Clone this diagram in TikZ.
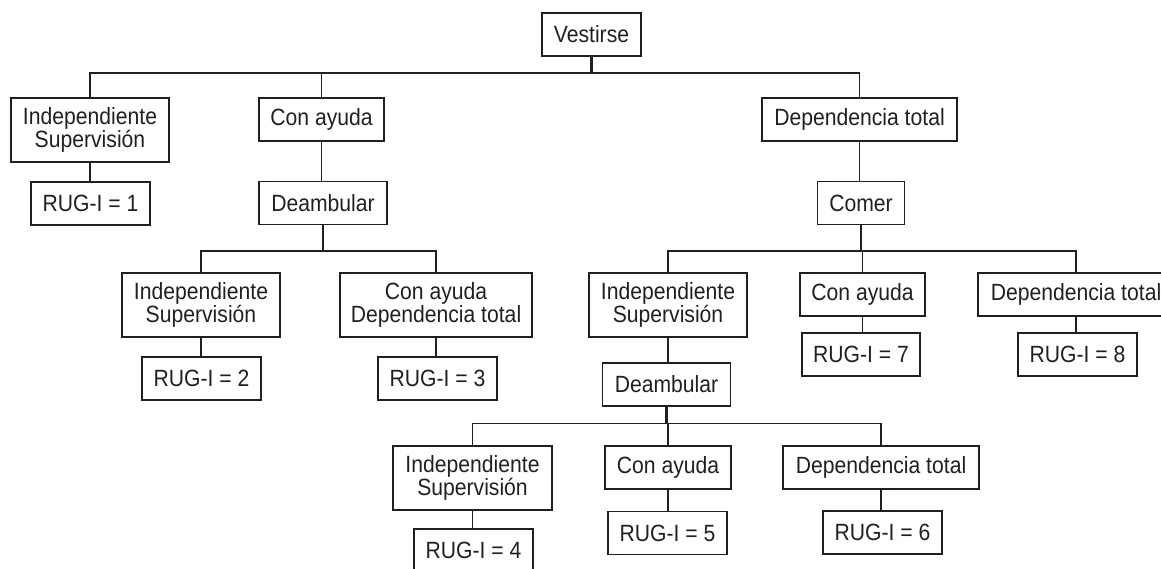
\documentclass[tikz,border=0pt]{standalone}
\usepackage{fontspec}
\setmainfont{Liberation Sans}[FakeStretch=0.9]
\definecolor{ink}{RGB}{35,31,32}
\begin{document}
\begin{tikzpicture}[x=1pt,y=-1pt,
  box/.style={draw=ink, line width=1.8pt, inner sep=0pt, minimum height=43pt, align=center, text=ink, font=\fontsize{23.5}{21}\selectfont},
  tall/.style={minimum height=64pt},
  link/.style={draw=ink, line width=1.7pt},
  stem/.style={draw=ink, line width=2.7pt}]
\useasboundingbox (0,0) rectangle (1161,569);
\clip (0,0) rectangle (1161,569);
% nodes
\node[box, minimum width=99pt] (vest) at (591.5,34.5) {Vestirse};
\node[box, tall, minimum width=158pt] (ind1) at (90,130) {Independiente\\Supervisión};
\node[box, minimum width=119pt] (rug1) at (90.5,203.5) {RUG-I = 1};
\node[box, minimum width=125pt] (con1) at (321.5,119.5) {Con ayuda};
\node[box, minimum width=128pt] (deam1) at (323,203) {Deambular};
\node[box, minimum width=195pt] (dep1) at (859.5,119.5) {Dependencia total};
\node[box, minimum width=87pt] (comer) at (861,203) {Comer};
\node[box, tall, minimum width=158pt] (ind2) at (201,305) {Independiente\\Supervisión};
\node[box, tall, minimum width=192pt] (cadt) at (436,305) {Con ayuda\\Dependencia total};
\node[box, minimum width=119pt] (rug2) at (201.5,378.5) {RUG-I = 2};
\node[box, minimum width=119pt] (rug3) at (437.5,378.5) {RUG-I = 3};
\node[box, tall, minimum width=158pt] (ind3) at (668,305) {Independiente\\Supervisión};
\node[box, minimum width=125pt] (con3) at (862.5,294.5) {Con ayuda};
\node[box, minimum width=196pt] (dep3) at (1076,294.5) {Dependencia total};
\node[box, minimum width=118pt] (rug7) at (861,354.5) {RUG-I = 7};
\node[box, minimum width=119pt] (rug8) at (1077.5,354.5) {RUG-I = 8};
\node[box, minimum width=128pt] (deam3) at (666.5,384.5) {Deambular};
\node[box, tall, minimum width=159pt] (ind4) at (472.5,478) {Independiente\\Supervisión};
\node[box, minimum width=126pt] (con4) at (668,467.5) {Con ayuda};
\node[box, minimum width=196pt] (dep4) at (881,467.5) {Dependencia total};
\node[box, minimum width=119pt] (rug4) at (473.5,550.5) {RUG-I = 4};
\node[box, minimum width=119pt] (rug5) at (667.5,533) {RUG-I = 5};
\node[box, minimum width=119pt] (rug6) at (882.5,532.5) {RUG-I = 6};
% connectors: Vestirse
\draw[stem] (vest.south) -- ++(0,16);
\draw[link] (vest.south) -- ++(0,16) -| (ind1.north);
\draw[link] (vest.south) -- ++(0,16) -| (con1.north);
\draw[link] (vest.south) -- ++(0,16) -| (dep1.north);
\draw[link] (ind1.south) -- (ind1.south |- rug1.north);
\draw[link] (con1.south) -- (con1.south |- deam1.north);
\draw[link] (dep1.south) -- (dep1.south |- comer.north);
% Deambular (left)
\draw[stem] (deam1.south) -- ++(0,25.5);
\draw[link] (deam1.south) -- ++(0,25.5) -| (ind2.north);
\draw[link] (deam1.south) -- ++(0,25.5) -| (cadt.north);
\draw[link] (ind2.south) -- (ind2.south |- rug2.north);
\draw[link] (cadt.south) -- (cadt.south |- rug3.north);
% Comer
\draw[stem] (comer.south) -- ++(0,25.5);
\draw[link] (comer.south) -- ++(0,25.5) -| (ind3.north);
\draw[link] (comer.south) -- ++(0,25.5) -| (con3.north);
\draw[link] (comer.south) -- ++(0,25.5) -| (dep3.north);
\draw[link] (ind3.south) -- (ind3.south |- deam3.north);
\draw[link] (con3.south) -- (con3.south |- rug7.north);
\draw[link] (dep3.south) -- (dep3.south |- rug8.north);
% Deambular (lower)
\draw[stem] (deam3.south) -- ++(0,16.5);
\draw[link] (deam3.south) -- ++(0,16.5) -| (ind4.north);
\draw[link] (deam3.south) -- ++(0,16.5) -| (con4.north);
\draw[link] (deam3.south) -- ++(0,16.5) -| (dep4.north);
\draw[link] (ind4.south) -- (ind4.south |- rug4.north);
\draw[link] (con4.south) -- (con4.south |- rug5.north);
\draw[link] (dep4.south) -- (dep4.south |- rug6.north);
\end{tikzpicture}
\end{document}
